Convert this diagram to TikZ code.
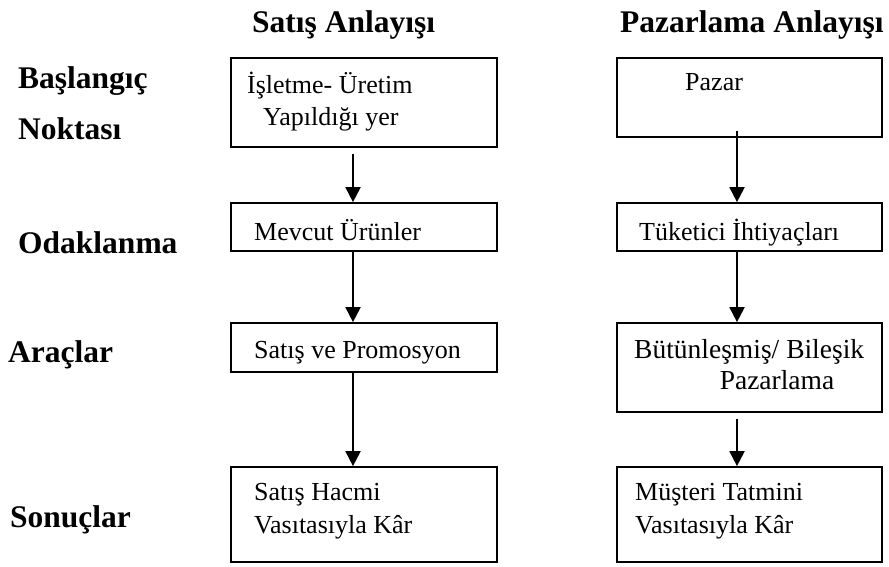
\documentclass[tikz,border=0pt]{standalone}
\usepackage{fontspec}
\setmainfont{Liberation Serif}
\usetikzlibrary{arrows.meta}
\begin{document}
\begin{tikzpicture}[x=1pt,y=-1pt,
  box/.style={draw,line width=1.7pt,rectangle,inner sep=0pt},
  txt/.style={anchor=base west,inner sep=0pt,font=\fontsize{26}{31}\selectfont},
  bigtxt/.style={anchor=base west,inner sep=0pt,font=\fontsize{27.5}{33}\selectfont},
  head/.style={anchor=base west,inner sep=0pt,font=\fontsize{31.5}{37}\selectfont\bfseries},
  arr/.style={line width=1.9pt,-{Triangle[width=15pt,length=15pt]}}]
\useasboundingbox (0,0) rectangle (889,566);

% column headings
\node[head] (hsat) at (252,32) {Satış Anlayışı};
\node[head] (hpaz) at (620,32) {Pazarlama Anlayışı};

% row headings
\node[head] (r1a) at (18,88) {Başlangıç};
\node[head] (r1b) at (18,139) {Noktası};
\node[head] (r2) at (18,253) {Odaklanma};
\node[head] (r3) at (8,362) {Araçlar};
\node[head] (r4) at (10,527) {Sonuçlar};

% left column boxes
\node[box,minimum width=266pt,minimum height=89pt] (L1) at (364,102.5) {};
\node[box,minimum width=266pt,minimum height=48pt] (L2) at (364,227) {};
\node[box,minimum width=266pt,minimum height=49pt] (L3) at (364,347.5) {};
\node[box,minimum width=266pt,minimum height=95pt] (L4) at (364,514.5) {};

% right column boxes
\node[box,minimum width=265pt,minimum height=79pt] (R1) at (749.5,97.5) {};
\node[box,minimum width=265pt,minimum height=48pt] (R2) at (749.5,227) {};
\node[box,minimum width=265pt,minimum height=89pt] (R3) at (749.5,367.5) {};
\node[box,minimum width=265pt,minimum height=95pt] (R4) at (749.5,514.5) {};

% box texts
\node[txt] (t1a) at (247,93) {İşletme- Üretim};
\node[txt] (t1b) at (263,125) {Yapıldığı yer};
\node[txt] (t2) at (254,240) {Mevcut Ürünler};
\node[txt] (t3) at (254,358) {Satış ve Promosyon};
\node[txt] (t4a) at (254,500) {Satış Hacmi};
\node[txt] (t4b) at (254,533) {Vasıtasıyla Kâr};

\node[txt] (u1) at (685,90) {Pazar};
\node[txt] (u2) at (639,240) {Tüketici İhtiyaçları};
\node[bigtxt] (u3a) at (634,358) {Bütünleşmiş/ Bileşik};
\node[bigtxt,anchor=base] (u3b) at (777,389) {Pazarlama};
\node[txt] (u4a) at (635,500) {Müşteri Tatmini};
\node[txt] (u4b) at (635,533) {Vasıtasıyla Kâr};

% connector columns
\coordinate (xl) at (353,0);
\coordinate (xr) at (737,0);

% arrows
\draw[arr,shorten <=6pt] (L1.south -| xl) -- (L2.north -| xl);
\draw[arr] (L2.south -| xl) -- (L3.north -| xl);
\draw[arr] (L3.south -| xl) -- (L4.north -| xl);
\draw[arr,shorten <=-7pt] (R1.south -| xr) -- (R2.north -| xr);
\draw[arr] (R2.south -| xr) -- (R3.north -| xr);
\draw[arr,shorten <=6pt] (R3.south -| xr) -- (R4.north -| xr);
\end{tikzpicture}
\end{document}
